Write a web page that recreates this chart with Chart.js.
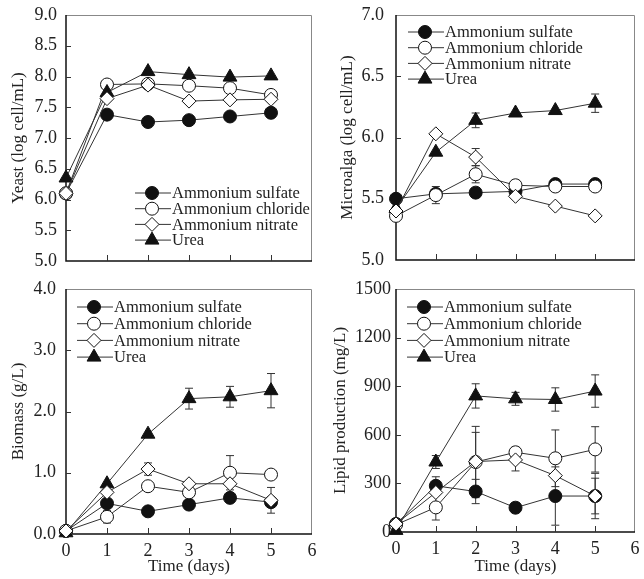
<!DOCTYPE html>
<html>
<head>
<meta charset="utf-8">
<script src="https://cdn.jsdelivr.net/npm/chart.js@4.4.1/dist/chart.umd.min.js"></script>
<style>
  html, body { margin: 0; padding: 0; background: #fff; }
  #wrap { position: relative; width: 644px; height: 579px; }
  .p { position: absolute; }
</style>
</head>
<body>
<div id="wrap">
  <div class="p" style="left:0;top:0;width:322px;height:280px"><canvas id="c1"></canvas></div>
  <div class="p" style="left:322px;top:0;width:322px;height:280px"><canvas id="c2"></canvas></div>
  <div class="p" style="left:0;top:280px;width:322px;height:299px"><canvas id="c3"></canvas></div>
  <div class="p" style="left:322px;top:280px;width:322px;height:299px"><canvas id="c4"></canvas></div>
</div>
<script>
// ---- data ----
var DAYS = [0, 1, 2, 3, 4, 5];
var SERIES = ['Ammonium sulfate', 'Ammonium chloride', 'Ammonium nitrate', 'Urea'];

// yeast (log cell/mL)
var YEAST_SULFATE  = [6.10, 7.38, 7.26, 7.29, 7.35, 7.41];
var YEAST_CHLORIDE = [6.10, 7.87, 7.88, 7.85, 7.81, 7.70];
var YEAST_NITRATE  = [6.10, 7.64, 7.86, 7.60, 7.62, 7.63];
var YEAST_UREA     = [6.35, 7.74, 8.08, 8.03, 7.99, 8.01];

// microalga (log cell/mL) + error bars
var ALGA_SULFATE  = [5.50, 5.54, 5.55, 5.56, 5.62, 5.62];
var ALGA_CHLORIDE = [5.36, 5.53, 5.70, 5.61, 5.60, 5.60];
var ALGA_NITRATE  = [5.40, 6.03, 5.84, 5.52, 5.44, 5.36];
var ALGA_UREA     = [5.42, 5.88, 6.14, 6.20, 6.22, 6.28];
var ALGA_SULFATE_ERR  = [0, 0, 0, 0, 0, 0];
var ALGA_CHLORIDE_ERR = [0, 0.07, 0.07, 0, 0, 0];
var ALGA_NITRATE_ERR  = [0, 0, 0.07, 0, 0, 0];
var ALGA_UREA_ERR     = [0, 0, 0.06, 0, 0, 0.075];

// biomass (g/L) + error bars
var BIO_SULFATE  = [0.05, 0.50, 0.37, 0.48, 0.59, 0.52];
var BIO_CHLORIDE = [0.05, 0.28, 0.78, 0.68, 1.00, 0.97];
var BIO_NITRATE  = [0.05, 0.68, 1.06, 0.82, 0.82, 0.55];
var BIO_UREA     = [0.02, 0.82, 1.63, 2.21, 2.24, 2.34];
var BIO_SULFATE_ERR  = [0, 0, 0, 0, 0, 0];
var BIO_CHLORIDE_ERR = [0, 0.10, 0, 0, 0.28, 0];
var BIO_NITRATE_ERR  = [0, 0, 0.10, 0, 0, 0.21];
var BIO_UREA_ERR     = [0, 0, 0, 0.17, 0.17, 0.28];

// lipid production (mg/L) + error bars
var LIPID_SULFATE  = [50, 285, 250, 150, 222, 222];
var LIPID_CHLORIDE = [45, 152, 432, 492, 455, 510];
var LIPID_NITRATE  = [50, 244, 435, 445, 348, 222];
var LIPID_UREA     = [10, 432, 840, 822, 818, 870];
var LIPID_SULFATE_ERR  = [0, 56, 75, 30, 180, 110];
var LIPID_CHLORIDE_ERR = [0, 78, 220, 30, 175, 140];
var LIPID_NITRATE_ERR  = [0, 0, 180, 68, 0, 140];
var LIPID_UREA_ERR     = [0, 40, 75, 40, 72, 100];

// ---- look ----
var FONT = "'Liberation Serif', 'Times New Roman', serif";
var INK = '#222';
var LINE = '#333';
var MARKS = [
  { style: 'circle',   r: 6.5, fill: '#111', order: 4 },
  { style: 'circle',   r: 6.5, fill: '#fff', order: 3 },
  { style: 'rectRot',  r: 7,   fill: '#fff', order: 1 },
  { style: 'triangle', r: 8,   fill: '#111', order: 2 }
];
Chart.defaults.font.family = FONT;
Chart.defaults.color = INK;

function pts(vals) {
  return DAYS.map(function (d, i) { return { x: d, y: vals[i] }; });
}

function makeChart(id, p) {
  var errPlugin = {
    id: 'errbars',
    beforeDatasetsDraw: function (chart) {
      var ctx = chart.ctx, a = chart.chartArea, ys = chart.scales.y, xs = chart.scales.x;
      ctx.save();
      // frame: grey top/right, dark left/bottom
      ctx.lineWidth = 1;
      ctx.strokeStyle = '#888';
      ctx.beginPath();
      ctx.moveTo(a.left, a.top + 0.5); ctx.lineTo(a.right - 0.5, a.top + 0.5); ctx.lineTo(a.right - 0.5, a.bottom);
      ctx.stroke();
      ctx.strokeStyle = '#111';
      ctx.lineWidth = 1.5;
      ctx.beginPath();
      ctx.moveTo(a.left, a.top); ctx.lineTo(a.left, a.bottom); ctx.lineTo(a.right, a.bottom);
      ctx.stroke();
      // inward tick marks
      ctx.lineWidth = 1;
      ctx.strokeStyle = '#333';
      ys.ticks.forEach(function (t) {
        if (t.value === ys.min || t.value === ys.max) return;
        var y = Math.round(ys.getPixelForValue(t.value)) + 0.5;
        ctx.beginPath(); ctx.moveTo(a.left, y); ctx.lineTo(a.left + 5, y); ctx.stroke();
      });
      xs.ticks.forEach(function (t) {
        if (t.value === xs.min || t.value === xs.max) return;
        var x = Math.round(xs.getPixelForValue(t.value)) + 0.5;
        ctx.beginPath(); ctx.moveTo(x, a.bottom); ctx.lineTo(x, a.bottom - 6); ctx.stroke();
      });
      // error bars, under the markers
      if (p.errors) {
        ctx.strokeStyle = '#333';
        p.errors.forEach(function (errs, i) {
          var meta = chart.getDatasetMeta(i);
          errs.forEach(function (e, j) {
            if (!e) return;
            var v = p.values[i][j];
            var x = meta.data[j].x;
            var yt = ys.getPixelForValue(v + e), yb = ys.getPixelForValue(v - e);
            ctx.beginPath();
            ctx.moveTo(x, yt); ctx.lineTo(x, yb);
            ctx.moveTo(x - 4, yt); ctx.lineTo(x + 4, yt);
            ctx.moveTo(x - 4, yb); ctx.lineTo(x + 4, yb);
            ctx.stroke();
          });
        });
      }
      ctx.restore();
    },
    afterDraw: function (chart) {
      // legend inside the plot
      var ctx = chart.ctx, a = chart.chartArea;
      ctx.save();
      ctx.font = '16.5px ' + FONT;
      ctx.textBaseline = 'middle';
      ctx.textAlign = 'left';
      SERIES.forEach(function (name, i) {
        var x0 = a.left + p.legend.dx, y = a.top + p.legend.dy + i * p.legend.gap;
        ctx.strokeStyle = LINE; ctx.lineWidth = 1;
        ctx.beginPath(); ctx.moveTo(x0, y); ctx.lineTo(x0 + 36, y); ctx.stroke();
        var m = MARKS[i];
        ctx.fillStyle = m.fill; ctx.strokeStyle = '#111'; ctx.lineWidth = 1;
        Chart.helpers.drawPoint(ctx, { pointStyle: m.style, radius: m.r, rotation: 0, borderWidth: 1 }, x0 + 17, y);
        ctx.fillStyle = INK;
        ctx.fillText(name, x0 + 37, y + 1);
      });
      ctx.restore();
    }
  };

  var datasets = SERIES.map(function (name, i) {
    var m = MARKS[i];
    return {
      label: name,
      data: pts(p.values[i]),
      order: m.order,
      borderColor: LINE,
      borderWidth: 1,
      pointStyle: m.style,
      pointRadius: m.r,
      pointBackgroundColor: m.fill,
      pointBorderColor: '#111',
      pointBorderWidth: 1,
      clip: false,
      tension: 0
    };
  });

  return new Chart(document.getElementById(id), {
    type: 'line',
    data: { datasets: datasets },
    plugins: [errPlugin],
    options: {
      responsive: true,
      maintainAspectRatio: false,
      animation: false,
      layout: { padding: { top: p.top, right: p.right, left: 0, bottom: 0 } },
      plugins: { legend: { display: false }, tooltip: { enabled: false } },
      scales: {
        x: {
          type: 'linear', min: 0, max: 6,
          grid: { display: false, drawTicks: false }, border: { display: false },
          ticks: { stepSize: 1, display: p.showX, padding: 6, maxRotation: 0, font: { size: 18 }, color: INK },
          title: { display: p.showX, text: 'Time (days)', font: { size: 17 }, color: INK, padding: { top: 0, bottom: 2 } },
          afterFit: function (s) { s.height = p.xh; s.paddingLeft = 0; s.paddingRight = 0; }
        },
        y: {
          type: 'linear', min: p.ymin, max: p.ymax,
          grid: { display: false, drawTicks: false }, border: { display: false },
          ticks: { stepSize: p.step, padding: p.tickPad, font: { size: 18 }, color: INK,
                   callback: function (v) { return p.dec ? v.toFixed(p.dec) : String(v); } },
          title: { display: true, text: p.title, font: { size: 17 }, color: INK, padding: { top: p.titlePad, bottom: 0 } },
          afterFit: function (s) { s.width = p.yw; s.paddingTop = 0; s.paddingBottom = 0; }
        }
      }
    }
  });
}

makeChart('c1', {
  values: [YEAST_SULFATE, YEAST_CHLORIDE, YEAST_NITRATE, YEAST_UREA],
  title: 'Yeast (log cell/mL)', ymin: 5, ymax: 9, step: 0.5, dec: 1,
  top: 15, right: 10, xh: 19, yw: 66, tickPad: 9, titlePad: 8, showX: false,
  legend: { dx: 69, dy: 178, gap: 15.7 }
});
makeChart('c2', {
  values: [ALGA_SULFATE, ALGA_CHLORIDE, ALGA_NITRATE, ALGA_UREA],
  errors: [ALGA_SULFATE_ERR, ALGA_CHLORIDE_ERR, ALGA_NITRATE_ERR, ALGA_UREA_ERR],
  title: 'Microalga (log cell/mL)', ymin: 5, ymax: 7, step: 0.5, dec: 1,
  top: 15, right: 5, xh: 20, yw: 74, tickPad: 12, titlePad: 15, showX: false,
  legend: { dx: 12, dy: 17, gap: 15.7 }
});
makeChart('c3', {
  values: [BIO_SULFATE, BIO_CHLORIDE, BIO_NITRATE, BIO_UREA],
  errors: [BIO_SULFATE_ERR, BIO_CHLORIDE_ERR, BIO_NITRATE_ERR, BIO_UREA_ERR],
  title: 'Biomass (g/L)', ymin: 0, ymax: 4, step: 1, dec: 1,
  top: 7, right: 10, xh: 45, yw: 66, tickPad: 10, titlePad: 8, showX: true,
  legend: { dx: 11, dy: 18, gap: 16.7 }
});
makeChart('c4', {
  values: [LIPID_SULFATE, LIPID_CHLORIDE, LIPID_NITRATE, LIPID_UREA],
  errors: [LIPID_SULFATE_ERR, LIPID_CHLORIDE_ERR, LIPID_NITRATE_ERR, LIPID_UREA_ERR],
  title: 'Lipid production (mg/L)', ymin: 0, ymax: 1500, step: 300, dec: 0,
  top: 7, right: 6, xh: 47, yw: 74, tickPad: 5, titlePad: 8, showX: true,
  legend: { dx: 11, dy: 18, gap: 16.7 }
});
</script>
</body>
</html>
